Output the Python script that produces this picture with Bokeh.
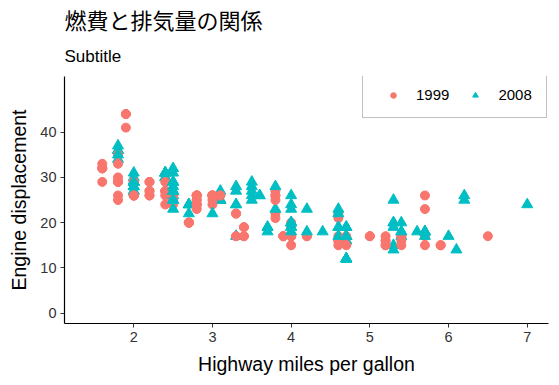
from bokeh.plotting import figure
from bokeh.models import Title, Range1d, FixedTicker, ColumnDataSource
from bokeh.transform import factor_cmap, factor_mark
from bokeh.embed import file_html
from bokeh.resources import INLINE

title_text = "燃費と排気量の関係"
subtitle_text = "Subtitle"
x_label = "Highway miles per gallon"
y_label = "Engine displacement"

years = ["1999", "2008"]
colors = ["#F8766D", "#00BFC4"]
markers = ["circle", "triangle"]

displ = [1.8, 1.8, 2.0, 2.0, 2.8, 2.8, 3.1, 1.8, 1.8, 2.0, 2.0, 2.8, 2.8, 3.1, 3.1, 2.8, 3.1, 4.2,
         5.3, 5.3, 5.3, 5.7, 6.0, 5.7, 5.7, 6.2, 6.2, 7.0, 5.3, 5.3, 5.7, 6.5, 2.4, 2.4, 3.1, 3.5,
         3.6, 2.4, 3.0, 3.3, 3.3, 3.3, 3.3, 3.3, 3.8, 3.8, 3.8, 4.0, 3.7, 3.7, 3.9, 3.9, 4.7, 4.7,
         4.7, 5.2, 5.2, 3.9, 4.7, 4.7, 4.7, 5.2, 5.7, 5.9, 4.7, 4.7, 4.7, 4.7, 4.7, 4.7, 5.2, 5.2,
         5.7, 5.9, 4.6, 5.4, 5.4, 4.0, 4.0, 4.0, 4.0, 4.6, 5.0, 4.2, 4.2, 4.6, 4.6, 4.6, 5.4, 5.4,
         3.8, 3.8, 4.0, 4.0, 4.6, 4.6, 4.6, 4.6, 5.4, 1.6, 1.6, 1.6, 1.6, 1.6, 1.8, 1.8, 1.8, 2.0,
         2.4, 2.4, 2.4, 2.4, 2.5, 2.5, 3.3, 2.0, 2.0, 2.0, 2.0, 2.7, 2.7, 2.7, 3.0, 3.7, 4.0, 4.7,
         4.7, 4.7, 5.7, 6.1, 4.0, 4.2, 4.4, 4.6, 5.4, 5.4, 5.4, 4.0, 4.0, 4.6, 5.0, 2.4, 2.4, 2.5,
         2.5, 3.5, 3.5, 3.0, 3.0, 3.5, 3.3, 3.3, 4.0, 5.6, 3.1, 3.8, 3.8, 3.8, 5.3, 2.5, 2.5, 2.5,
         2.5, 2.5, 2.5, 2.2, 2.2, 2.5, 2.5, 2.5, 2.5, 2.5, 2.5, 2.7, 2.7, 3.4, 3.4, 4.0, 4.7, 2.2,
         2.2, 2.4, 2.4, 3.0, 3.0, 3.5, 2.2, 2.2, 2.4, 2.4, 3.0, 3.0, 3.3, 1.8, 1.8, 1.8, 1.8, 1.8,
         4.7, 5.7, 2.7, 2.7, 2.7, 3.4, 3.4, 4.0, 4.0, 2.0, 2.0, 2.0, 2.0, 2.8, 1.9, 2.0, 2.0, 2.0,
         2.0, 2.5, 2.5, 2.8, 2.8, 1.9, 1.9, 2.0, 2.0, 2.5, 2.5, 1.8, 1.8, 2.0, 2.0, 2.8, 2.8, 3.6]

hwy = [29, 29, 31, 30, 26, 26, 27, 26, 25, 28, 27, 25, 25, 25, 25, 24, 25, 23,
       20, 15, 20, 17, 17, 26, 23, 26, 25, 24, 19, 14, 15, 17, 27, 30, 26, 29,
       26, 24, 24, 22, 22, 24, 24, 17, 22, 21, 23, 23, 19, 18, 17, 17, 19, 19,
       12, 17, 15, 17, 17, 12, 17, 16, 18, 15, 16, 12, 17, 17, 16, 12, 15, 16,
       17, 15, 17, 17, 18, 17, 19, 17, 19, 19, 17, 17, 17, 16, 16, 17, 15, 17,
       26, 25, 26, 24, 21, 22, 23, 22, 20, 33, 32, 32, 29, 32, 34, 36, 36, 29,
       26, 27, 30, 31, 26, 26, 28, 26, 29, 28, 27, 24, 24, 24, 22, 19, 20, 17,
       12, 19, 18, 14, 15, 18, 18, 15, 17, 16, 18, 17, 19, 19, 17, 29, 27, 31,
       32, 27, 26, 26, 25, 25, 17, 17, 20, 18, 26, 26, 27, 28, 25, 25, 24, 27,
       25, 26, 23, 26, 26, 26, 26, 25, 27, 25, 27, 20, 20, 19, 17, 20, 17, 29,
       27, 31, 31, 26, 26, 28, 27, 29, 31, 31, 26, 26, 27, 30, 33, 35, 37, 35,
       15, 18, 20, 20, 22, 17, 19, 18, 20, 29, 26, 29, 29, 24, 44, 29, 26, 29,
       29, 29, 29, 23, 24, 44, 41, 29, 26, 28, 29, 29, 29, 28, 29, 26, 26, 26]

year = [1999, 1999, 2008, 2008, 1999, 1999, 2008, 1999, 1999, 2008, 2008, 1999, 1999, 2008, 2008, 1999, 2008, 2008,
        2008, 2008, 2008, 1999, 2008, 1999, 1999, 2008, 2008, 2008, 2008, 2008, 1999, 1999, 1999, 2008, 1999, 2008,
        2008, 1999, 1999, 1999, 1999, 2008, 2008, 2008, 1999, 1999, 2008, 2008, 2008, 2008, 1999, 1999, 2008, 2008,
        2008, 1999, 1999, 1999, 2008, 2008, 2008, 1999, 2008, 1999, 2008, 2008, 2008, 2008, 2008, 2008, 1999, 1999,
        2008, 1999, 1999, 1999, 2008, 1999, 1999, 1999, 2008, 2008, 1999, 1999, 1999, 1999, 1999, 2008, 1999, 2008,
        1999, 1999, 2008, 2008, 1999, 1999, 2008, 2008, 2008, 1999, 1999, 1999, 1999, 1999, 2008, 2008, 2008, 2008,
        1999, 1999, 2008, 2008, 1999, 1999, 2008, 1999, 1999, 2008, 2008, 2008, 2008, 2008, 2008, 2008, 1999, 1999,
        2008, 2008, 2008, 2008, 1999, 2008, 2008, 1999, 1999, 1999, 2008, 1999, 2008, 2008, 1999, 1999, 1999, 2008,
        2008, 2008, 2008, 1999, 1999, 2008, 1999, 1999, 2008, 2008, 1999, 1999, 1999, 2008, 2008, 1999, 1999, 2008,
        2008, 2008, 2008, 1999, 1999, 1999, 1999, 2008, 2008, 2008, 2008, 1999, 1999, 1999, 1999, 2008, 2008, 1999,
        1999, 2008, 2008, 1999, 1999, 2008, 1999, 1999, 2008, 2008, 1999, 1999, 2008, 1999, 1999, 1999, 2008, 2008,
        1999, 2008, 1999, 1999, 2008, 1999, 1999, 2008, 2008, 1999, 1999, 2008, 2008, 1999, 1999, 1999, 1999, 2008,
        2008, 2008, 2008, 1999, 1999, 1999, 1999, 1999, 1999, 2008, 2008, 1999, 1999, 2008, 2008, 1999, 1999, 2008]

x_ticks = [2, 3, 4, 5, 6, 7]
y_ticks = [0, 10, 20, 30, 40]

LATIN = "Liberation Sans, Arial, Helvetica, sans-serif"
CJK = "Noto Sans CJK JP, Liberation Sans, sans-serif"

year_str = [str(y) for y in year]
size_map = {"1999": 9, "2008": 11}
source = ColumnDataSource(dict(x=displ, y=hwy, year=year_str,
                               size=[size_map[y] for y in year_str]))

p = figure(width=559, height=385, output_backend="svg", toolbar_location=None,
           x_range=Range1d(1.12, 7.27), y_range=Range1d(-2.3, 52.3),
           min_border_left=64, min_border_right=11, min_border_top=0, min_border_bottom=62)

p.title.text = title_text
p.title.text_font = CJK
p.title.text_font_size = "22px"
p.title.text_font_style = "normal"
p.title.text_color = "#000000"
p.title.align = "left"
p.title.offset = 0
p.title.standoff = 0

sub = Title(text=subtitle_text, text_font=LATIN, text_font_size="17px",
            text_font_style="normal", text_color="#000000", align="left", offset=0, standoff=21)
p.add_layout(sub, "above")

p.outline_line_color = None
p.xgrid.visible = False
p.ygrid.visible = False
p.background_fill_color = "white"
p.border_fill_color = "white"

r = p.scatter("x", "y", source=source, size="size",
              marker=factor_mark("year", markers, years),
              color=factor_cmap("year", colors, years),
              legend_group="year")

for ax in (p.xaxis, p.yaxis):
    ax.axis_line_color = "black"
    ax.axis_line_width = 1.2
    ax.major_tick_line_color = "#333333"
    ax.major_tick_in = 0
    ax.major_tick_out = 4
    ax.minor_tick_line_color = None
    ax.major_label_text_font = LATIN
    ax.major_label_text_font_size = "14.5px"
    ax.major_label_text_color = "#333333"
    ax.axis_label_text_font = LATIN
    ax.axis_label_text_font_size = "19.5px"
    ax.axis_label_text_font_style = "normal"
    ax.axis_label_text_color = "#000000"

p.xaxis.ticker = FixedTicker(ticks=x_ticks)
p.yaxis.ticker = FixedTicker(ticks=y_ticks)
p.xaxis.axis_label = x_label
p.yaxis.axis_label = y_label
p.xaxis.major_label_standoff = 4
p.yaxis.major_label_standoff = 4
p.xaxis.axis_label_standoff = 8
p.yaxis.axis_label_standoff = 7

leg = p.legend[0]
leg.orientation = "horizontal"
leg.location = (298, 205)
leg.border_line_color = "#7F7F7F"
leg.border_line_width = 1
leg.background_fill_color = "white"
leg.background_fill_alpha = 1
leg.label_text_font = LATIN
leg.label_text_font_size = "15px"
leg.label_text_color = "#000000"
leg.glyph_width = 32
leg.glyph_height = 14
leg.label_height = 14
leg.label_standoff = 7
leg.spacing = 10
leg.padding = 14
leg.margin = 0

open("out.html", "w").write(file_html(p, INLINE))
